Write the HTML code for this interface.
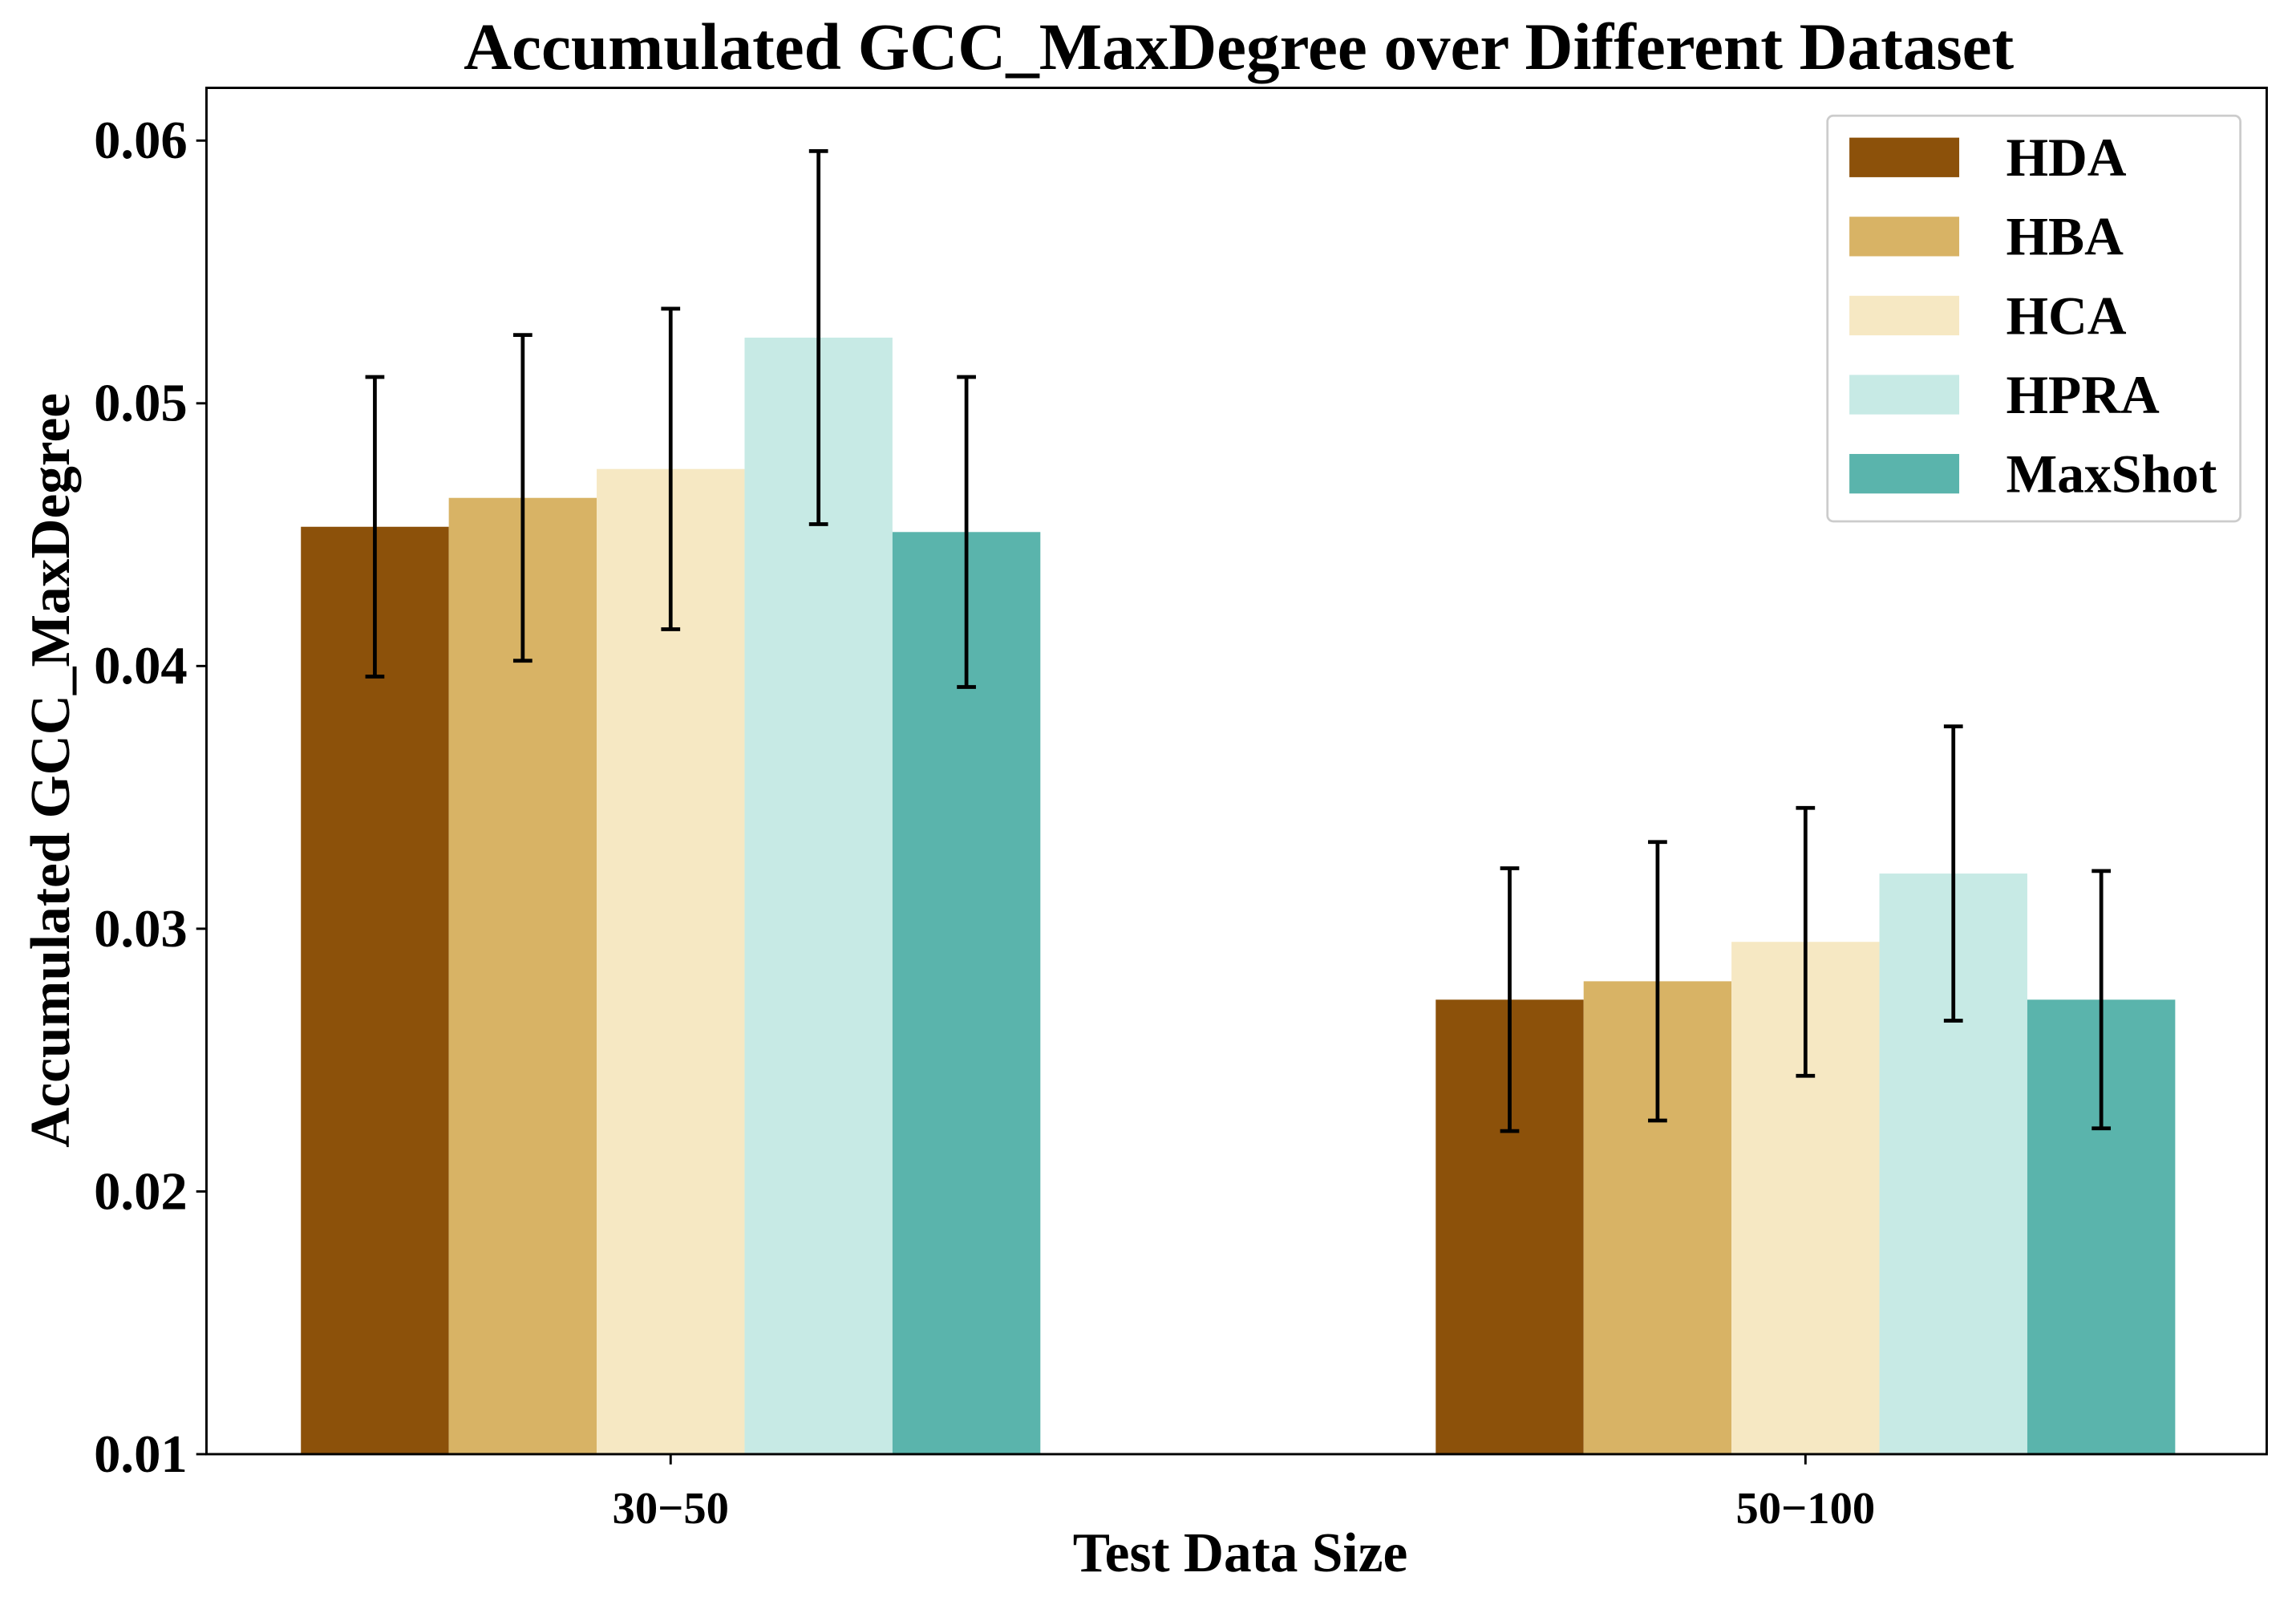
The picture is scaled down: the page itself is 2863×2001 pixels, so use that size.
<!DOCTYPE html>
<html><head><meta charset="utf-8"><style>
html,body{margin:0;padding:0;background:#fff;}
svg{display:block;font-family:"Liberation Serif",serif;font-weight:bold;}
</style></head><body>
<svg id="chart" width="2863" height="2001" viewBox="0 0 1568 1096" preserveAspectRatio="none" xmlns="http://www.w3.org/2000/svg">
<text x="846" y="47" text-anchor="middle" font-size="45.5">Accumulated GCC_MaxDegree over Different Dataset</text>
<g id="bars"></g>
<g id="errs"></g>
<rect x="141" y="60" width="1407" height="933" fill="none" stroke="#000" stroke-width="1.6"/>
<g id="yticks"></g>
<g id="xticks"></g>
<text x="847" y="1073" text-anchor="middle" font-size="38">Test Data Size</text>
<text transform="translate(47,526) rotate(-90)" text-anchor="middle" font-size="38">Accumulated GCC_MaxDegree</text>
<g id="legend">
<rect x="1248" y="79" width="282" height="277" rx="4" fill="#fff" stroke="#ccc" stroke-width="1.5"/>
</g>
</svg>
<script>
const categories = ["30\u221250", "50\u2212100"];
const seriesNames = ["HDA", "HBA", "HCA", "HPRA", "MaxShot"];
const colors = ["#8c510a", "#d8b365", "#f6e8c3", "#c7eae5", "#5ab4ac"];
const valuesHDA = [0.0453, 0.0273];
const valuesHBA = [0.0464, 0.0280];
const valuesHCA = [0.0475, 0.0295];
const valuesHPRA = [0.0525, 0.0321];
const valuesMaxShot = [0.0451, 0.0273];
const errHDA = [0.0057, 0.0050];
const errHBA = [0.0062, 0.0053];
const errHCA = [0.0061, 0.0051];
const errHPRA = [0.0071, 0.0056];
const errMaxShot = [0.0059, 0.0049];
const yTicks = [0.01, 0.02, 0.03, 0.04, 0.05, 0.06];
const yTickLabels = ["0.01", "0.02", "0.03", "0.04", "0.05", "0.06"];

const series = [valuesHDA, valuesHBA, valuesHCA, valuesHPRA, valuesMaxShot];
const errs = [errHDA, errHBA, errHCA, errHPRA, errMaxShot];
const NS = "http://www.w3.org/2000/svg";
const yMin = 0.01, yMax = 0.06, pyB = 993, pyT = 96;
function y(v){ return pyB - (v - yMin) / (yMax - yMin) * (pyB - pyT); }
const cx0 = 458, cxStep = 775, barW = 101;
function x(ci){ return cx0 + ci * cxStep; }
function mk(tag, attrs, parent){
  const e = document.createElementNS(NS, tag);
  for (const k in attrs) e.setAttribute(k, attrs[k]);
  parent.appendChild(e); return e;
}
const gb = document.getElementById('bars'), ge = document.getElementById('errs');
series.forEach((vals, si) => {
  vals.forEach((v, ci) => {
    const left = x(ci) - 2.5 * barW + si * barW;
    const r = mk('rect', {x: left, y: y(v), width: barW, height: pyB - y(v), fill: colors[si]}, gb);
    
    
    const c = left + barW / 2, e = errs[si][ci];
    const g = mk('g', {stroke: '#000', 'stroke-width': 2.6}, ge);
    
    
    mk('line', {x1: c, x2: c, y1: y(v + e), y2: y(v - e)}, g);
    mk('line', {x1: c - 6.5, x2: c + 6.5, y1: y(v + e), y2: y(v + e)}, g);
    mk('line', {x1: c - 6.5, x2: c + 6.5, y1: y(v - e), y2: y(v - e)}, g);
  });
});
const gy = document.getElementById('yticks');
yTicks.forEach((t, i) => {
  const l = mk('line', {x1: 134, x2: 141, y1: y(t), y2: y(t), stroke: '#000', 'stroke-width': 1.6}, gy);
  
  
  const tx = mk('text', {x: 128, y: y(t) + 12, 'text-anchor': 'end', 'font-size': 36.5}, gy);
  tx.textContent = yTickLabels[i];
  
  
});
const gx = document.getElementById('xticks');
categories.forEach((c, i) => {
  const l = mk('line', {x1: x(i), x2: x(i), y1: 993, y2: 1000, stroke: '#000', 'stroke-width': 1.6}, gx);
  
  
  const tx = mk('text', {x: x(i), y: 1040, 'text-anchor': 'middle', 'font-size': 31}, gx);
  tx.textContent = c;
  
  
});
const gl = document.getElementById('legend');
seriesNames.forEach((n, i) => {
  const yy = 94 + i * 54;
  const r = mk('rect', {x: 1263, y: yy, width: 75, height: 27, fill: colors[i]}, gl);
  
  
  const t = mk('text', {x: 1370, y: yy + 26, 'font-size': 37}, gl);
  t.textContent = n;
  
  
});
</script>
</body></html>
